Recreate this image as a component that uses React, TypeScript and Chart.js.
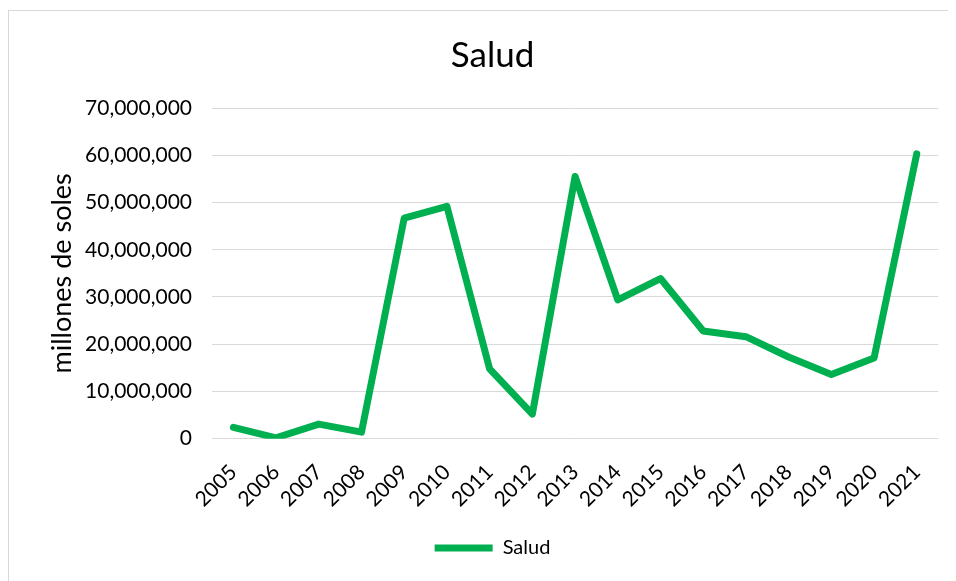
import React, { useEffect, useRef } from "react";
import { Chart, registerables } from "chart.js";

Chart.register(...registerables);

const years = ["2005", "2006", "2007", "2008", "2009", "2010", "2011", "2012", "2013", "2014", "2015", "2016", "2017", "2018", "2019", "2020", "2021"];
const salud = [2400000, 200000, 3100000, 1400000, 46700000, 49200000, 14800000, 5200000, 55500000, 29400000, 33900000, 22800000, 21600000, 17300000, 13600000, 17100000, 60300000];
const seriesName = "Salud";
const chartTitle = "Salud";
const yAxisTitle = "millones de soles";

const FONT = "Lato, 'Open Sans', sans-serif";
const GREEN = "#00B050";

export default function App() {
  const ref = useRef<HTMLCanvasElement | null>(null);
  useEffect(() => {
    if (!ref.current) return;
    const chart = new Chart(ref.current, {
      type: "line",
      data: {
        labels: years,
        datasets: [
          {
            label: seriesName,
            data: salud,
            borderColor: GREEN,
            backgroundColor: GREEN,
            borderWidth: 7,
            borderCapStyle: "round",
            borderJoinStyle: "round",
            pointRadius: 0,
            tension: 0,
          },
        ],
      },
      options: {
        animation: false,
        responsive: false,
        devicePixelRatio: 1,
        layout: { padding: { left: 34, right: 14, top: 0, bottom: 13 } },
        plugins: {
          title: {
            display: true,
            text: chartTitle,
            color: "#000",
            font: { family: FONT, size: 35, weight: "normal" },
            padding: { top: 24, bottom: 31 },
          },
          legend: {
            position: "bottom",
            labels: {
              usePointStyle: true,
              pointStyle: "line",
              pointStyleWidth: 58,
              color: "#000",
              font: { family: FONT, size: 20 },
              padding: 10,
            },
          },
          tooltip: { enabled: false },
        },
        scales: {
          x: {
            offset: true,
            grid: { display: false, drawTicks: false },
            border: { display: false },
            afterFit: (scale: any) => {
              scale.height -= 5;
            },
            ticks: {
              color: "#000",
              font: { family: FONT, size: 21 },
              minRotation: 45,
              maxRotation: 45,
              padding: 21,
              autoSkip: false,
            },
          },
          y: {
            min: 0,
            max: 70000000,
            grid: { color: "#d9d9d9", lineWidth: 1, drawTicks: false },
            border: { display: false },
            afterFit: (scale: any) => {
              scale.width = 169;
            },
            ticks: {
              stepSize: 10000000,
              color: "#000",
              font: { family: FONT, size: 21 },
              padding: 20,
              callback: (v: any) => Number(v).toLocaleString("en-US"),
            },
            title: {
              display: true,
              text: yAxisTitle,
              color: "#000",
              font: { family: FONT, size: 27 },
              padding: { top: 3, bottom: 4 },
            },
          },
        },
      },
    });
    return () => chart.destroy();
  }, []);
  return (
    <div
      style={{
        marginTop: 2,
        borderTop: "1px solid #d9d9d9",
        borderLeft: "1px solid #d9d9d9",
        width: 947,
        height: 570,
        background: "#fff",
      }}
    >
      <canvas ref={ref} width={947} height={570} style={{ display: "block" }} />
    </div>
  );
}
